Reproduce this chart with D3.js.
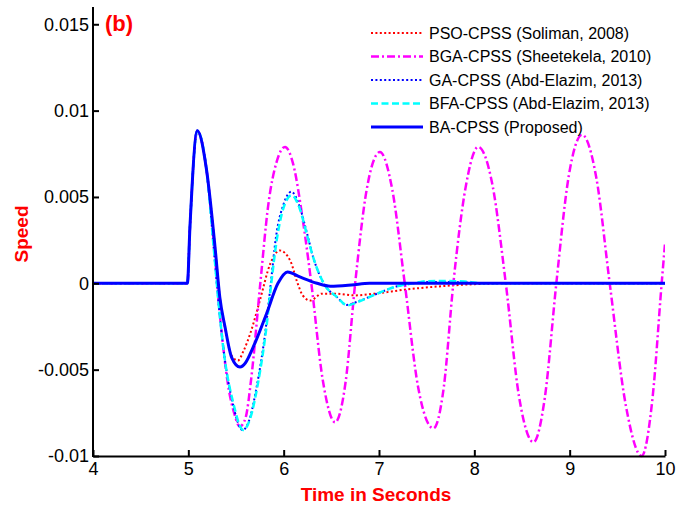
<!DOCTYPE html>
<html>
<head>
<meta charset="utf-8">
<script src="https://cdn.jsdelivr.net/npm/d3@7"></script>
<style>
  body { margin: 0; background: #fff; }
  svg { font-family: "Liberation Sans", Arial, sans-serif; }
</style>
</head>
<body>
<div id="chart"></div>
<script>
// tick values
const xTicks = [4, 5, 6, 7, 8, 9, 10];
const yTicks = [-0.01, -0.005, 0, 0.005, 0.01, 0.015];

// PSO-CPSS (Soliman, 2008)
const psoTime  = [4, 4.99, 5.017, 5.094, 5.19, 5.28, 5.33, 5.385, 5.455, 5.52, 5.58, 5.65, 5.75, 5.86, 5.96, 6.07, 6.14, 6.2, 6.28, 6.4, 6.55, 6.75, 6.95, 7.3, 7.65, 8.0, 8.3, 10];
const psoSpeed = [0, 0, 0.00327, 0.00883, 0.0066, 0.0021, -0.0008, -0.0026, -0.0042, -0.00447, -0.0039, -0.0029, -0.001, 0.00114, 0.0019, 0.0013, 0.0001, -0.0007, -0.001, -0.0006, -0.0006, -0.0007, -0.0006, -0.00035, -0.00017, -0.00005, 0, 0];

// BGA-CPSS (Sheetekela, 2010)
const bgaTime  = [4, 4.99, 5.017, 5.094, 5.19, 5.27, 5.32, 5.36, 5.42, 5.48, 5.54, 5.6, 5.66, 5.755, 5.84, 5.93, 6.014, 6.1, 6.2, 6.29, 6.41, 6.54, 6.65, 6.75, 6.87, 7.01, 7.14, 7.27, 7.41, 7.57, 7.68, 7.78, 7.91, 8.04, 8.19, 8.33, 8.47, 8.62, 8.74, 8.86, 8.99, 9.13, 9.28, 9.42, 9.59, 9.755, 9.87, 9.965, 10];
const bgaSpeed = [0, 0, 0.00327, 0.00883, 0.0066, 0.0022, -0.0012, -0.0034, -0.006, -0.0075, -0.0083, -0.0078, -0.0055, 0, 0.0046, 0.0071, 0.0079, 0.0069, 0.0037, 0, -0.0056, -0.00805, -0.0057, 0, 0.0054, 0.0076, 0.0054, 0, -0.006, -0.0084, -0.006, 0, 0.0056, 0.0079, 0.0057, 0, -0.0066, -0.0092, -0.0066, 0, 0.0062, 0.0086, 0.0061, 0, -0.0071, -0.01, -0.0066, 0, 0.0023];

// GA-CPSS (Abd-Elazim, 2013)
const gaTime  = [4, 4.99, 5.017, 5.094, 5.19, 5.27, 5.32, 5.38, 5.46, 5.57, 5.64, 5.72, 5.81, 5.865, 5.92, 6.0, 6.08, 6.17, 6.24, 6.31, 6.42, 6.56, 6.66, 6.78, 6.98, 7.19, 7.36, 7.6, 7.9, 8.07, 10];
const gaSpeed = [0, 0, 0.00327, 0.00883, 0.0066, 0.0018, -0.0013, -0.0043, -0.0068, -0.0085, -0.0079, -0.0059, -0.0027, 0, 0.0027, 0.0046, 0.0053, 0.0044, 0.003, 0.0015, 0, -0.0008, -0.00125, -0.00105, -0.0006, -0.00017, 0, 0.00008, 0.00005, 0, 0];

// BFA-CPSS (Abd-Elazim, 2013)
const bfaTime  = [4, 4.99, 5.017, 5.094, 5.19, 5.27, 5.32, 5.38, 5.47, 5.577, 5.65, 5.73, 5.82, 5.87, 5.93, 6.0, 6.084, 6.17, 6.24, 6.31, 6.42, 6.56, 6.67, 6.78, 6.98, 7.19, 7.36, 7.5, 7.7, 7.9, 8.1, 10];
const bfaSpeed = [0, 0, 0.00327, 0.00883, 0.0066, 0.0018, -0.0013, -0.0043, -0.0069, -0.0085, -0.0078, -0.0058, -0.0025, 0, 0.0026, 0.0044, 0.0051, 0.0043, 0.0029, 0.0015, 0, -0.0008, -0.00128, -0.00108, -0.0006, -0.00017, 0, 0.00012, 0.00014, 0.0001, 0, 0];

// BA-CPSS (Proposed)
const baTime  = [4, 4.99, 5.017, 5.094, 5.19, 5.28, 5.33, 5.385, 5.455, 5.542, 5.6, 5.68, 5.82, 5.94, 6.04, 6.17, 6.35, 6.49, 6.71, 6.9, 10];
const baSpeed = [0, 0, 0.00327, 0.00883, 0.0066, 0.0021, -0.0008, -0.00253, -0.0043, -0.00485, -0.0046, -0.0037, -0.00176, 0, 0.00066, 0.00037, 0, -0.00017, -0.0001, 0, 0];

const seriesNames = [
  'PSO-CPSS (Soliman, 2008)',
  'BGA-CPSS (Sheetekela, 2010)',
  'GA-CPSS (Abd-Elazim, 2013)',
  'BFA-CPSS (Abd-Elazim, 2013)',
  'BA-CPSS (Proposed)'
];

document.addEventListener('DOMContentLoaded', function () {
  const width = 677, height = 508;
  const left = 93, right = 665, top = 7, bottom = 456;

  const series = [
    { name: seriesNames[0], t: psoTime, v: psoSpeed, color: '#ff0000', width: 2, dash: '2,2.4' },
    { name: seriesNames[1], t: bgaTime, v: bgaSpeed, color: '#ff00ff', width: 2.5, dash: '8,3,2,3' },
    { name: seriesNames[2], t: gaTime, v: gaSpeed, color: '#0000ff', width: 2, dash: '2,2.4' },
    { name: seriesNames[3], t: bfaTime, v: bfaSpeed, color: '#00ffff', width: 2.5, dash: '7,3.5' },
    { name: seriesNames[4], t: baTime, v: baSpeed, color: '#0000ff', width: 3, dash: null }
  ];

  const svg = d3.select('#chart')
    .append('svg')
    .attr('width', width)
    .attr('height', height);

  const x = d3.scaleLinear().domain([4, 10]).range([left, right]);
  const y = d3.scaleLinear().domain([-0.01, 0.016]).range([bottom, top]);

  svg.append('clipPath')
    .attr('id', 'plot-clip')
    .append('rect')
    .attr('x', left)
    .attr('y', top)
    .attr('width', right - left)
    .attr('height', bottom - top + 2);

  const line = d3.line()
    .x(d => x(d[0]))
    .y(d => y(d[1]))
    .curve(d3.curveMonotoneX);

  svg.append('g')
    .attr('clip-path', 'url(#plot-clip)')
    .selectAll('path')
    .data(series)
    .join('path')
    .attr('fill', 'none')
    .attr('stroke', d => d.color)
    .attr('stroke-width', d => d.width)
    .attr('stroke-dasharray', d => d.dash)
    .attr('stroke-linejoin', 'round')
    .attr('d', d => line(d.t.map((t, i) => [t, d.v[i]])));

  // axes, ticks pointing inwards
  const xAxis = svg.append('g')
    .attr('transform', `translate(0,${bottom})`)
    .call(d3.axisBottom(x).tickValues(xTicks).tickSizeInner(-6).tickSizeOuter(0).tickPadding(6).tickFormat(d3.format('d')));

  const yAxis = svg.append('g')
    .attr('transform', `translate(${left},0)`)
    .call(d3.axisLeft(y).tickValues(yTicks).tickSizeInner(-6).tickSizeOuter(0).tickPadding(4).tickFormat(d => String(d)));

  [xAxis, yAxis].forEach(g => {
    g.select('.domain').attr('stroke', '#000').attr('stroke-width', 2);
    g.selectAll('.tick line').attr('stroke', '#000').attr('stroke-width', 2);
    g.selectAll('.tick text').attr('fill', '#000').style('font-size', '18px');
  });
  // y axis line goes up to the top of the plot
  yAxis.select('.domain').attr('d', `M0,${bottom + 1}V${top}`);

  // labels
  svg.append('text')
    .attr('x', 376)
    .attr('y', 501)
    .attr('text-anchor', 'middle')
    .attr('fill', '#ff0000')
    .style('font-size', '19px')
    .style('font-weight', 'bold')
    .text('Time in Seconds');

  svg.append('text')
    .attr('transform', 'translate(28,234) rotate(-90)')
    .attr('text-anchor', 'middle')
    .attr('fill', '#ff0000')
    .style('font-size', '19px')
    .style('font-weight', 'bold')
    .text('Speed');

  svg.append('text')
    .attr('x', 105)
    .attr('y', 31)
    .attr('fill', '#ff0000')
    .style('font-size', '22px')
    .style('font-weight', 'bold')
    .text('(b)');

  // legend
  const legend = svg.append('g')
    .selectAll('g')
    .data(series)
    .join('g')
    .attr('transform', (d, i) => `translate(371,${33 + i * 23.5})`);

  legend.append('line')
    .attr('x1', 0)
    .attr('x2', 52)
    .attr('stroke', d => d.color)
    .attr('stroke-width', d => d.width)
    .attr('stroke-dasharray', d => d.dash);

  legend.append('text')
    .attr('x', 58)
    .attr('dy', '0.35em')
    .attr('fill', '#000')
    .style('font-size', '16px')
    .text(d => d.name);
});
</script>
</body>
</html>
